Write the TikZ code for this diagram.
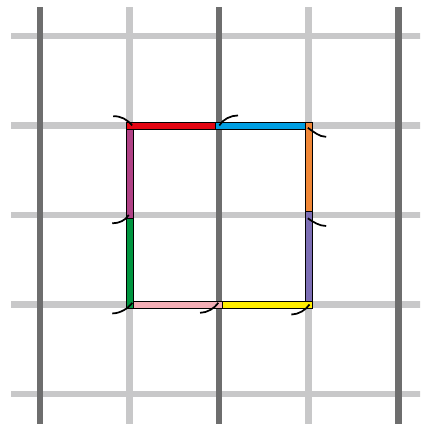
\documentclass[tikz,border=0pt]{standalone}
\usepackage{tikz}
\definecolor{gridlight}{RGB}{200,200,201}
\definecolor{griddark}{RGB}{110,110,110}
\definecolor{ribred}{RGB}{227,6,19}
\definecolor{ribblue}{RGB}{0,159,227}
\definecolor{riborange}{RGB}{240,135,55}
\definecolor{ribpurple}{RGB}{124,110,180}
\definecolor{ribyellow}{RGB}{255,237,0}
\definecolor{ribpink}{RGB}{244,175,182}
\definecolor{ribgreen}{RGB}{0,150,64}
\definecolor{ribplum}{RGB}{176,66,134}
\tikzset{ribbon/.style={draw=black, line width=0.4pt},
  twist/.style={black, line width=1.1pt}}

\begin{document}
\begin{tikzpicture}[x=2cm,y=2cm]
\useasboundingbox (-0.447,-0.335) rectangle (4.246,4.402);
\clip (-0.447,-0.335) rectangle (4.246,4.402);
% grid
\foreach \i in {0,...,4}
  \draw[gridlight, line width=4.3pt] (-0.324,\i) -- (4.33,\i);
\foreach \i in {1,3}
  \draw[gridlight, line width=4.4pt] (\i,-0.34) -- (\i,4.324);
\foreach \i in {0,2,4}
  \draw[griddark, line width=4.4pt] (\i,-0.34) -- (\i,4.324);
% ribbon pieces
\def\h{0.039}
\filldraw[ribbon, fill=ribred] (1-\h,3-\h) rectangle (2-\h,3+\h);
\filldraw[ribbon, fill=ribblue] (2-\h,3-\h) rectangle (3-\h,3+\h);
\filldraw[ribbon, fill=riborange] (3-\h,2+\h) rectangle (3+\h,3+\h);
\filldraw[ribbon, fill=ribpurple] (3-\h,1+\h) rectangle (3+\h,2+\h);
\filldraw[ribbon, fill=ribyellow] (2+\h,1-\h) rectangle (3+\h,1+\h);
\filldraw[ribbon, fill=ribpink] (1+\h,1-\h) rectangle (2+\h,1+\h);
\filldraw[ribbon, fill=ribgreen] (1-\h,1-\h) rectangle (1+\h,2-\h);
\filldraw[ribbon, fill=ribplum] (1-\h,2-\h) rectangle (1+\h,3-\h);
% twists
\draw[twist] (1.03,3) .. controls +(-0.06,0.07) and +(0.09,0) .. (0.818,3.104);
\draw[twist] (2.003,3) .. controls +(0.04,0.07) and +(-0.08,0) .. (2.212,3.112);
\draw[twist] (2.992,2.974) .. controls +(0.06,-0.04) and +(-0.08,0) .. (3.197,2.873);
\draw[twist] (2.992,1.963) .. controls +(0.06,-0.04) and +(-0.08,0) .. (3.197,1.877);
\draw[twist] (3.011,1) .. controls +(-0.04,-0.06) and +(0.08,0) .. (2.808,0.888);
\draw[twist] (1.992,1.019) .. controls +(-0.04,-0.06) and +(0.08,0) .. (1.788,0.907);
\draw[twist] (1.03,1.019) .. controls +(-0.04,-0.06) and +(0.09,0) .. (0.807,0.9);
\draw[twist] (0.992,2) .. controls +(-0.04,-0.06) and +(0.08,0) .. (0.807,1.907);
\end{tikzpicture}
\end{document}
